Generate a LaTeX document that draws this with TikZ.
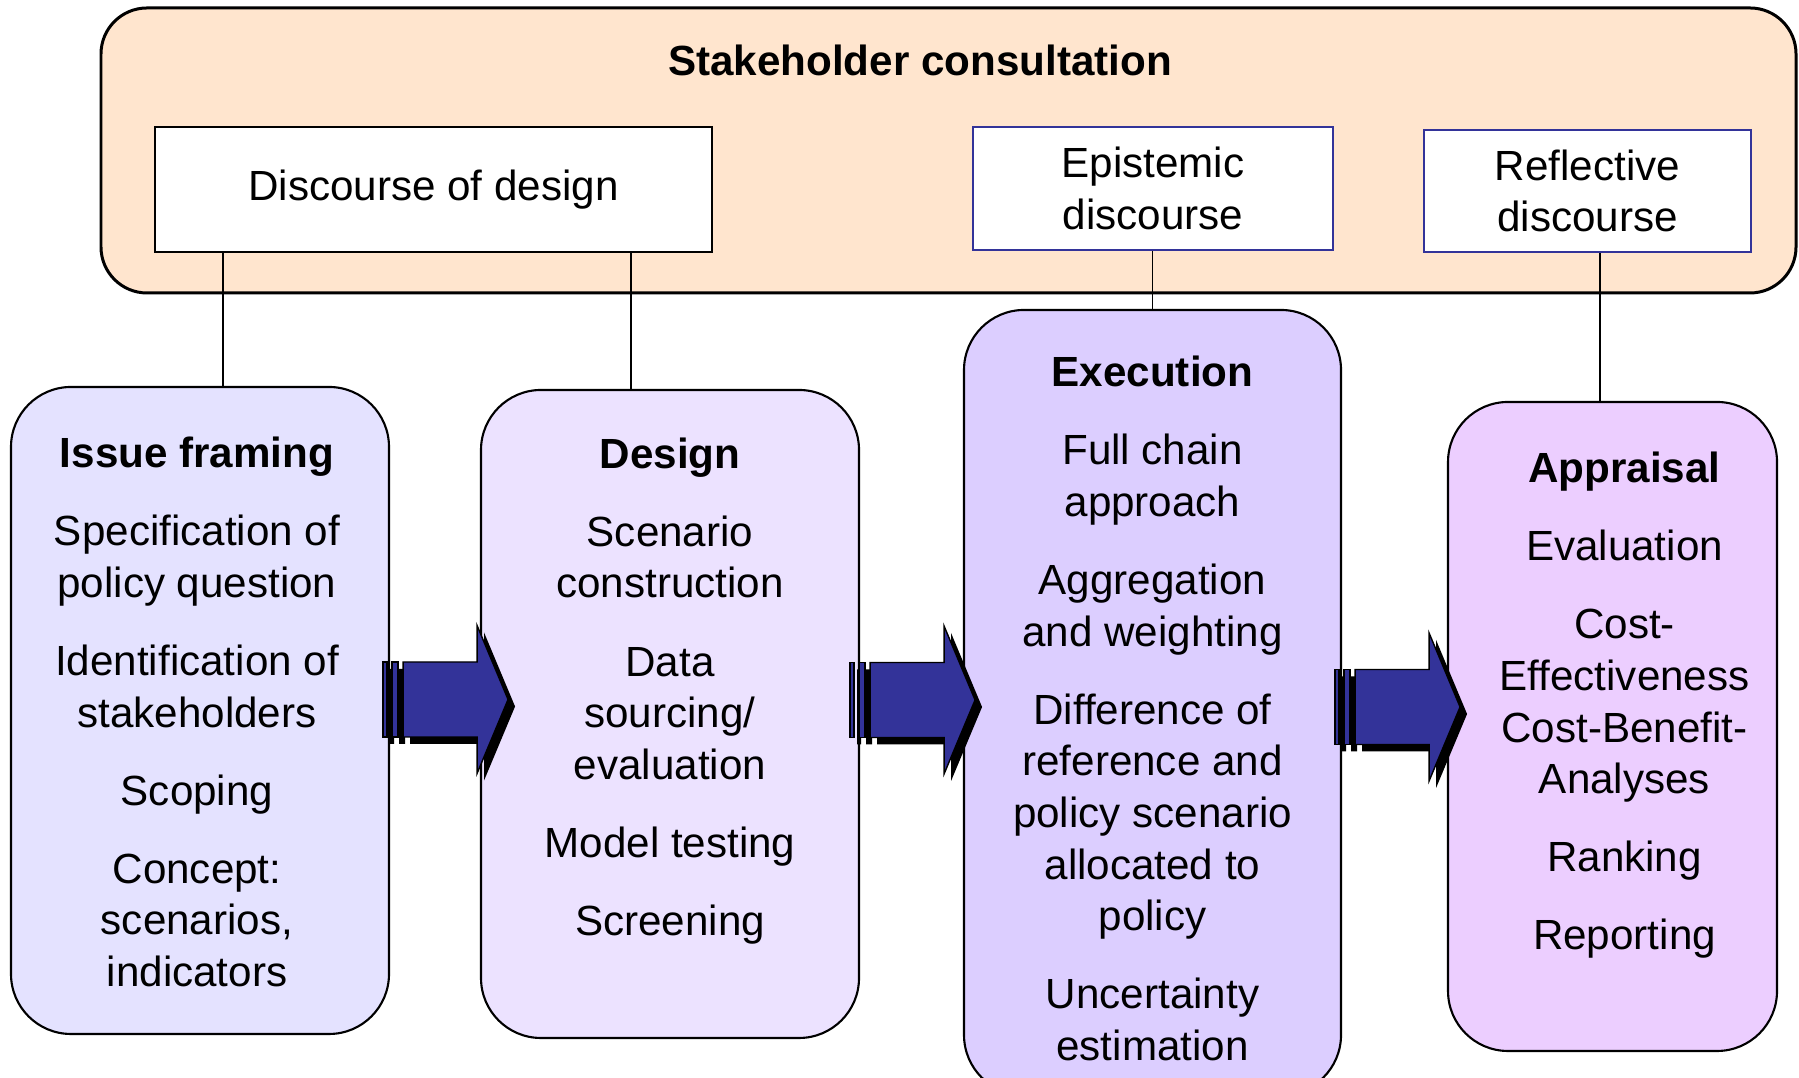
\documentclass[tikz,border=0pt]{standalone}
\usepackage{fontspec}
\setmainfont{Liberation Sans}
\usepackage{tikz}
\usetikzlibrary{arrows.meta,positioning,calc}
\definecolor{peach}{RGB}{255, 229, 206}
\definecolor{issuefill}{RGB}{228, 226, 255}
\definecolor{designfill}{RGB}{236, 226, 255}
\definecolor{execfill}{RGB}{220, 206, 255}
\definecolor{apprfill}{RGB}{236, 206, 255}
\definecolor{arrowblue}{RGB}{51, 51, 153}

\begin{document}
\begin{tikzpicture}[>=Stealth, font=\fontsize{12}{14.7}\selectfont,
		consultbox/.style={draw=black, line width=0.85pt, fill=peach, rounded corners=0.46cm, minimum width=16.95cm, minimum height=2.85cm, inner sep=0pt},
		discbox/.style={draw=black, line width=0.6pt, fill=white, inner sep=0pt, align=center},
		stagebox/.style={draw=black, line width=0.6pt, rounded corners=0.6cm, minimum width=3.78cm, minimum height=6.47cm, inner sep=0pt},
		stagetext/.style={align=center, inner sep=0pt},
		linkLine/.style={line width=0.5pt, color=black},
		blockarrow/.pic={
			% shadow
			\begin{scope}[shift={(0.07,-0.07)}]
				\fill[black] (0,-0.375) rectangle (0.04,0.375) (0.09,-0.375) rectangle (0.15,0.375);
				\fill[black] (0.20,-0.375) -- (0.94,-0.375) -- (0.94,-0.74) -- (1.25,0) -- (0.94,0.74) -- (0.94,0.375) -- (0.20,0.375) -- cycle;
			\end{scope}
			\filldraw[fill=arrowblue, draw=black, line width=0.4pt] (0,-0.375) rectangle (0.04,0.375) (0.09,-0.375) rectangle (0.15,0.375);
			\filldraw[fill=arrowblue, draw=black, line width=0.4pt] (0.20,-0.375) -- (0.94,-0.375) -- (0.94,-0.74) -- (1.25,0) -- (0.94,0.74) -- (0.94,0.375) -- (0.20,0.375) -- cycle;
		}
		]
	
	\useasboundingbox (0,0) rectangle (17.99,10.78);
	\clip (0,0) rectangle (17.99,10.78);
	
	% stakeholder consultation
	\node [consultbox] (consult) at (9.485,9.275) {};
	\node [stagetext, below=0.32cm of consult.north, xshift=-2.85mm] (consulttxt) {\strut\textbf{Stakeholder consultation}};
	
	\node [discbox, minimum width=5.57cm, minimum height=1.25cm] (disc) at (4.335,8.885) {Discourse of design};
	\node [discbox, draw=arrowblue, minimum width=3.60cm, minimum height=1.23cm] (epi) at (11.53,8.895) {Epistemic\\ discourse};
	\node [discbox, draw=arrowblue, minimum width=3.27cm, minimum height=1.22cm] (refl) at (15.875,8.87) {Reflective\\ discourse};
	
	% stages
	\node [stagebox, fill=issuefill] (issue) at (2.00,3.675) {};
	\node [stagebox, fill=designfill, minimum height=6.48cm] (design) at (6.70,3.64) {};
	\node [stagebox, fill=execfill, minimum width=3.77cm, minimum height=7.85cm] (exec) at (11.525,3.755) {};
	\node [stagebox, fill=apprfill, minimum width=3.29cm, minimum height=6.49cm] (appr) at (16.125,3.515) {};
	
	\node [stagetext, below=0.45cm of issue.north, xshift=-0.3mm] (issuetxt) {\strut\textbf{Issue framing}\\[7.5pt] Specification of\\ policy question\\[7.5pt] Identification of\\ stakeholders\\[7.5pt] Scoping\\[7.5pt] Concept:\\ scenarios,\\ indicators};
	\node [stagetext, below=0.425cm of design.north] (designtxt) {\strut\textbf{Design}\\[7.5pt] Scenario\\ construction\\[7.5pt] Data\\ sourcing/\\ evaluation\\[7.5pt] Model testing\\[7.5pt] Screening};
	\node [stagetext, below=0.41cm of exec.north] (exectxt) {\strut\textbf{Execution}\\[7.5pt] Full chain\\ approach\\[7.5pt] Aggregation\\ and weighting\\[7.5pt] Difference of\\ reference and\\ policy scenario\\ allocated to\\ policy\\[7.5pt] Uncertainty\\ estimation};
	\node [stagetext, below=0.45cm of appr.north, xshift=1.2mm] (apprtxt) {\strut\textbf{Appraisal}\\[7.5pt] Evaluation\\[7.5pt] Cost-\\ Effectiveness\\ Cost-Benefit-\\ Analyses\\[7.5pt] Ranking\\[7.5pt] Reporting};
	
	% links to the discourses
	\coordinate (l1) at ([xshift=0.23cm]issue.north);
	\coordinate (l2) at ([xshift=-0.39cm]design.north);
	\coordinate (l3) at (exec.north);
	\coordinate (l4) at ([xshift=-0.125cm]appr.north);
	\draw [linkLine] (l1) -- (l1 |- disc.south);
	\draw [linkLine] (l2) -- (l2 |- disc.south);
	\draw [linkLine] (l3) -- (l3 |- epi.south);
	\draw [linkLine] (l4) -- (l4 |- refl.south);
	
	% block arrows
	\pic at ([shift={(-0.07,0.11)}]issue.east) {blockarrow};
	\pic at ([shift={(-0.10,0.14)}]design.east) {blockarrow};
	\pic at ([shift={(-0.07,-0.045)}]exec.east) {blockarrow};
\end{tikzpicture}
\end{document}
